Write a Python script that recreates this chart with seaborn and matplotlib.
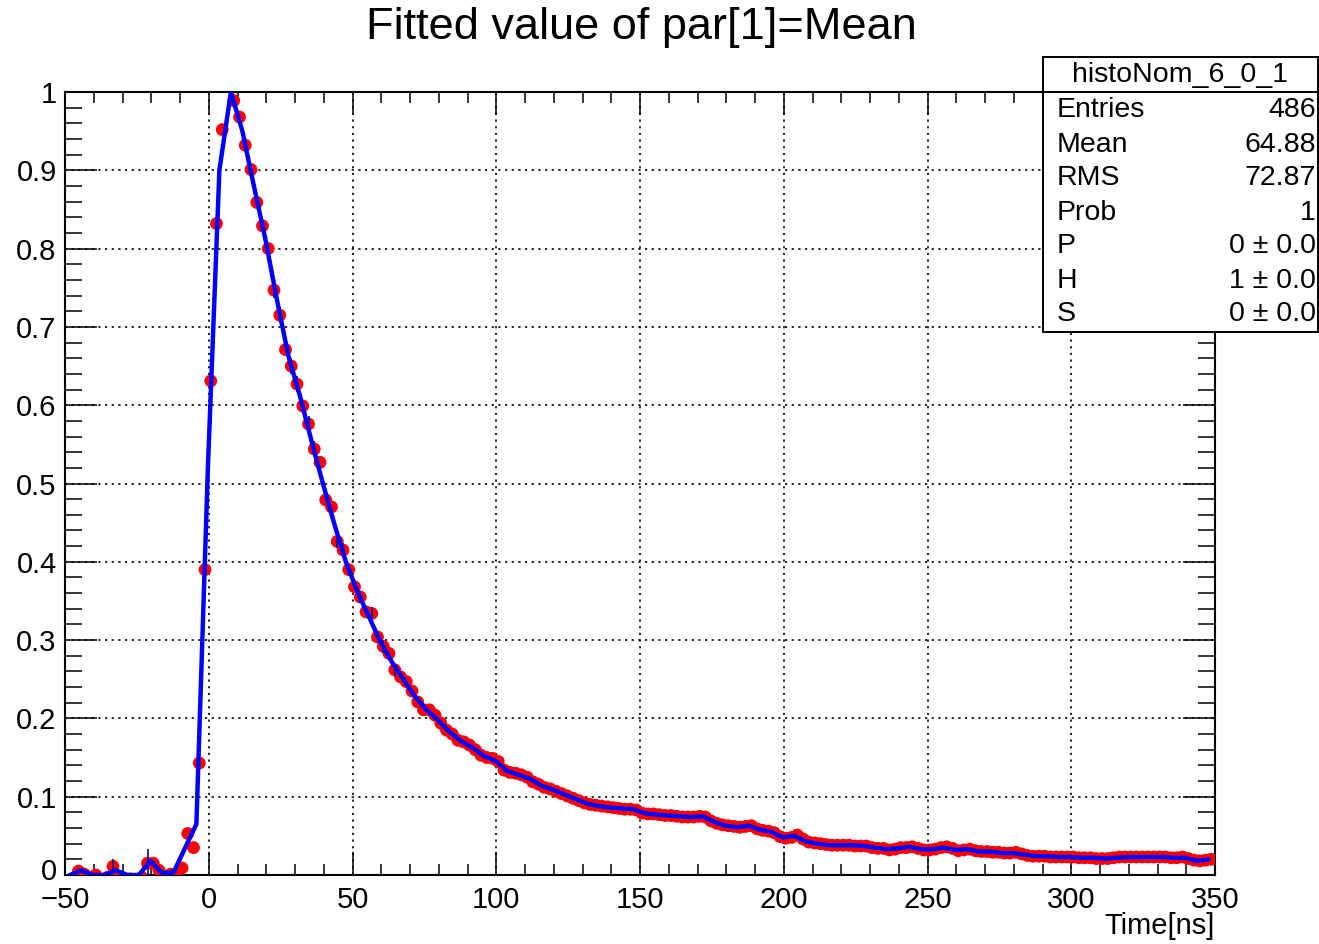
import numpy as np
import pandas as pd
import matplotlib
matplotlib.use("Agg")
import matplotlib.pyplot as plt
from matplotlib.ticker import MultipleLocator, FixedLocator, FixedFormatter
from matplotlib.transforms import Affine2D
import seaborn as sns

# ---------------- data ----------------
title = "Fitted value of par[1]=Mean"
x_label = "Time[ns]"
hist_name = "histoNom_6_0_1"
stats_labels = ["Entries", "Mean", "RMS", "Prob", "P", "H", "S"]
stats_values = ["486", "64.88", "72.87", "1", "0 \u00b1 0.0", "1 \u00b1 0.0", "0 \u00b1 0.0"]

x_tick_values = [-50, 0, 50, 100, 150, 200, 250, 300, 350]
x_tick_labels = ["\u221250", "0", "50", "100", "150", "200", "250", "300", "350"]
y_tick_values = [0, 0.1, 0.2, 0.3, 0.4, 0.5, 0.6, 0.7, 0.8, 0.9, 1.0]
y_tick_labels = ["0", "0.1", "0.2", "0.3", "0.4", "0.5", "0.6", "0.7", "0.8", "0.9", "1"]

# histogram points (bin width 2 ns, first bin centre -45.3 ns)
first_bin_center = -45.3
bin_width = 2.0
point_values = [
    0.005, 0.001, -0.004, 0.000, -0.006, -0.003, 0.011, -0.004, -0.008, -0.005,
    -0.006, -0.003, 0.015, 0.015, 0.006, -0.002, 0.001, 0.001, 0.009, 0.053,
    0.035, 0.143, 0.390, 0.631, 0.832, 0.952, 1.020, 0.989, 0.968, 0.932,
    0.901, 0.859, 0.829, 0.800, 0.747, 0.715, 0.671, 0.650, 0.627, 0.599,
    0.576, 0.544, 0.527, 0.479, 0.470, 0.426, 0.415, 0.390, 0.368, 0.355,
    0.336, 0.334, 0.304, 0.292, 0.283, 0.262, 0.253, 0.247, 0.235, 0.221,
    0.211, 0.211, 0.204, 0.194, 0.185, 0.180, 0.172, 0.170, 0.166, 0.160,
    0.153, 0.150, 0.149, 0.145, 0.134, 0.131, 0.130, 0.128, 0.125, 0.119,
    0.116, 0.112, 0.110, 0.107, 0.104, 0.101, 0.098, 0.095, 0.092, 0.090,
    0.089, 0.088, 0.087, 0.086, 0.085, 0.084, 0.084, 0.083, 0.079, 0.078,
    0.078, 0.077, 0.076, 0.076, 0.075, 0.074, 0.074, 0.074, 0.075, 0.074,
    0.069, 0.066, 0.064, 0.063, 0.062, 0.061, 0.062, 0.063, 0.059, 0.057,
    0.056, 0.054, 0.049, 0.047, 0.048, 0.051, 0.046, 0.042, 0.041, 0.040,
    0.039, 0.038, 0.038, 0.038, 0.038, 0.037, 0.037, 0.037, 0.035, 0.034,
    0.034, 0.032, 0.033, 0.035, 0.035, 0.036, 0.034, 0.032, 0.032, 0.033,
    0.035, 0.036, 0.034, 0.031, 0.032, 0.033, 0.031, 0.030, 0.030, 0.029,
    0.029, 0.028, 0.028, 0.029, 0.027, 0.025, 0.024, 0.024, 0.024, 0.023,
    0.023, 0.023, 0.023, 0.023, 0.022, 0.022, 0.022, 0.021, 0.021, 0.021,
    0.022, 0.023, 0.023, 0.023, 0.023, 0.023, 0.023, 0.023, 0.023, 0.023,
    0.022, 0.022, 0.023, 0.021, 0.019, 0.018, 0.019, 0.020,
]

# visible error bars: bin index -> half length
err_bin_index = [6, 12, 34, 35, 37, 38, 40, 41, 45, 46, 49, 51, 53, 55]
err_half = [0.010, 0.018, 0.010, 0.010, 0.010, 0.010, 0.010, 0.010, 0.009, 0.009, 0.008, 0.008, 0.008, 0.008]

# fitted function, sampled every 4 ns from -48.3 ns
fit_first_x = -48.3
fit_step = 4.0
fit_values = [
    0.000, 0.006, 0.000, 0.000, 0.006, 0.000, 0.000, 0.018, 0.003, 0.003,
    0.034, 0.065, 0.520, 0.900, 1.000, 0.950, 0.880, 0.812, 0.735, 0.663,
    0.612, 0.555, 0.500, 0.448, 0.400, 0.362, 0.330, 0.298, 0.272, 0.250,
    0.228, 0.211, 0.198, 0.183, 0.171, 0.163, 0.152, 0.146, 0.133, 0.128,
    0.123, 0.114, 0.109, 0.103, 0.097, 0.091, 0.088, 0.086, 0.085, 0.084,
    0.079, 0.077, 0.076, 0.075, 0.074, 0.075, 0.068, 0.063, 0.061, 0.063,
    0.058, 0.055, 0.048, 0.050, 0.043, 0.040, 0.038, 0.038, 0.038, 0.037,
    0.035, 0.033, 0.034, 0.036, 0.033, 0.033, 0.035, 0.032, 0.033, 0.030,
    0.030, 0.028, 0.028, 0.026, 0.024, 0.024, 0.023, 0.023, 0.022, 0.022,
    0.021, 0.022, 0.023, 0.023, 0.023, 0.023, 0.022, 0.022, 0.018, 0.020,
]

# ---------------- build tables ----------------
pts = pd.DataFrame({
    "t": first_bin_center + bin_width * np.arange(len(point_values)),
    "v": point_values,
})
fit = pd.DataFrame({
    "t": fit_first_x + fit_step * np.arange(len(fit_values)),
    "v": fit_values,
})
err_t = pts["t"].values[err_bin_index]
err_v = pts["v"].values[err_bin_index]

# ---------------- style ----------------
sns.set_style("ticks")
plt.rcParams["font.family"] = ["Liberation Sans", "DejaVu Sans"]
plt.rcParams["text.color"] = "black"
plt.rcParams["axes.labelcolor"] = "black"
plt.rcParams["xtick.color"] = "black"
plt.rcParams["ytick.color"] = "black"

W, H = 1319, 944
fig = plt.figure(figsize=(W / 100, H / 100), dpi=100)
fig.patch.set_facecolor("white")

L, R, T, B = 65, 1215, 92, 875
ax = fig.add_axes([L / W, 1 - B / H, (R - L) / W, (B - T) / H])

ax.errorbar(err_t, err_v, yerr=err_half, fmt="none", ecolor="#1a1a8c", elinewidth=1.3, zorder=3.5)
sns.scatterplot(data=pts, x="t", y="v", color="red", s=85, edgecolor="none", linewidth=0,
                zorder=3, ax=ax, legend=False)
sns.lineplot(data=fit, x="t", y="v", color="blue", linewidth=3.2, sort=False, estimator=None,
             zorder=4, ax=ax, legend=False)

ax.set_xlim(-50, 350)
ax.set_ylim(0, 1)
ax.set_xlabel("")
ax.set_ylabel("")

ax.xaxis.set_major_locator(FixedLocator(x_tick_values))
ax.xaxis.set_major_formatter(FixedFormatter(x_tick_labels))
ax.xaxis.set_minor_locator(MultipleLocator(10))
ax.yaxis.set_major_locator(FixedLocator(y_tick_values))
ax.yaxis.set_major_formatter(FixedFormatter(y_tick_labels))
ax.yaxis.set_minor_locator(MultipleLocator(0.02))

ax.tick_params(axis="both", which="both", direction="in", top=True, right=True,
               color="black", labelsize=21, labelcolor="black")
ax.tick_params(axis="x", which="major", length=16.5, width=1.1, pad=8)
ax.tick_params(axis="x", which="minor", length=8, width=1.1)
ax.tick_params(axis="y", which="major", length=23, width=1.1, pad=6)
ax.tick_params(axis="y", which="minor", length=12, width=1.1)

for s in ax.spines.values():
    s.set_visible(True)
    s.set_linewidth(1.5)
    s.set_color("black")

ax.set_axisbelow(True)
ax.grid(True, which="major", color="black", linestyle=(0, (1.3, 2.7)), linewidth=1.2)

# lift the "0" label of the y axis a little so it does not collide with "-50"
fig.canvas.draw()
zero_lab = ax.yaxis.get_major_ticks()[0].label1
zero_lab.set_transform(zero_lab.get_transform() + Affine2D().translate(0, 6))

# title and axis label
fig.text(641 / W, 1 - 27 / H, title, ha="center", va="center", fontsize=32.5, color="black")
fig.text(R / W, 1 - 926 / H, x_label, ha="right", va="center", fontsize=21, color="black")

# stats box
bx0, bx1, by0, by1 = 1043, 1318, 57, 332
sax = fig.add_axes([bx0 / W, 1 - by1 / H, (bx1 - bx0) / W, (by1 - by0) / H])
sax.set_xlim(0, 1)
sax.set_ylim(0, 1)
sax.set_xticks([])
sax.set_yticks([])
sax.set_facecolor("white")
for s in sax.spines.values():
    s.set_visible(True)
    s.set_linewidth(1.4)
    s.set_color("black")
sep = (by1 - T) / (by1 - by0)
sax.axhline(sep, color="black", linewidth=1.4)
sax.text(0.5, (by1 - 75) / (by1 - by0), hist_name, ha="center", va="center", fontsize=20.5, color="black")
row_px = [110, 145, 178, 213, 246, 281, 314]
for lab, val, ypx in zip(stats_labels, stats_values, row_px):
    yy = (by1 - ypx) / (by1 - by0)
    sax.text((1057 - bx0) / (bx1 - bx0), yy, lab, ha="left", va="center", fontsize=20.5, color="black")
    sax.text((1316 - bx0) / (bx1 - bx0), yy, val, ha="right", va="center", fontsize=20.5, color="black")

fig.savefig("out.png", dpi=100)
